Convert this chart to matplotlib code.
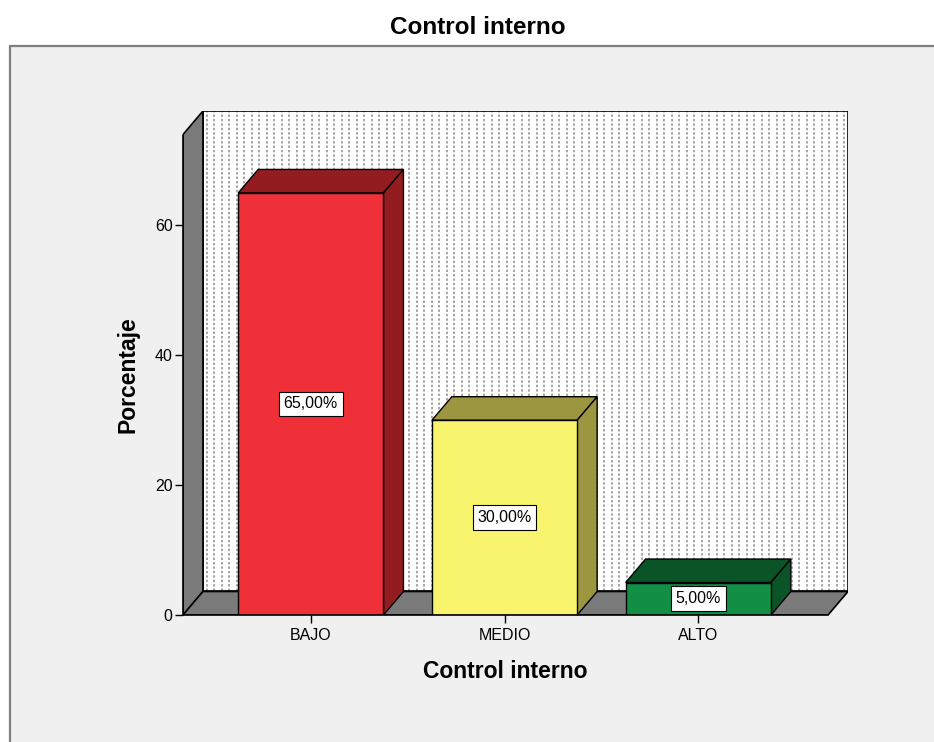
import numpy as np
import matplotlib
matplotlib.use("Agg")
from matplotlib import pyplot as plt
from matplotlib.patches import Polygon, Rectangle

plt.rcParams['font.family'] = ['Liberation Sans', 'DejaVu Sans']

# data
categorias = ["BAJO", "MEDIO", "ALTO"]
porcentajes = [65.0, 30.0, 5.0]
etiquetas = ["65,00%", "30,00%", "5,00%"]
y_ticks = [0, 20, 40, 60]

# colours per bar: front face, top/side face
frente = ["#EF3038", "#F8F46E", "#128E45"]
sombra = ["#931C21", "#9B963F", "#0B5427"]

# geometry of the pseudo 3d box
x0, x1 = -0.66, 2.67    # front floor extent
ytop = 74.0             # top of left wall
dx, dy = 0.103, 3.62    # depth offset
ancho = 0.75

fig = plt.figure(figsize=(9.34, 7.42), dpi=100)
fig.patch.set_facecolor("white")

# grey panel behind the chart
fig.patches.append(Rectangle((10 / 934, -0.05), 1.0, (742 - 46) / 742 + 0.05,
                             transform=fig.transFigure, facecolor="#F0F0F0",
                             edgecolor="#7F7F7F", linewidth=1.6, zorder=-5))

ax = fig.add_axes([183 / 934, (742 - 615) / 742, (848 - 183) / 934, (615 - 111) / 742])
ax.set_facecolor("none")
ax.set_xlim(x0, x1 + dx)
ax.set_ylim(0, ytop + dy)

# back wall with dotted vertical pattern
ax.add_patch(Rectangle((x0 + dx, dy), x1 - x0, ytop, facecolor="white",
                       edgecolor="none", zorder=1))
xs = np.arange(x0 + dx + 0.02, x1 + dx, 0.0387)
ax.vlines(xs, dy, ytop + dy, colors="#8E8E8E", linewidth=1.1,
          linestyles=(0, (1.6, 1.3)), zorder=1.5)
ax.add_patch(Rectangle((x0 + dx, dy), x1 - x0, ytop, facecolor="none",
                       edgecolor="black", linewidth=1.2, zorder=2))

# left wall and floor
ax.add_patch(Polygon([(x0, 0), (x0, ytop), (x0 + dx, ytop + dy), (x0 + dx, dy)],
                     closed=True, facecolor="#7A7A7A", edgecolor="black",
                     linewidth=1.2, zorder=3))
ax.add_patch(Polygon([(x0, 0), (x1, 0), (x1 + dx, dy), (x0 + dx, dy)],
                     closed=True, facecolor="#7A7A7A", edgecolor="black",
                     linewidth=1.2, zorder=3))

pos = np.arange(len(categorias))
ax.bar(pos, porcentajes, width=ancho, color=frente, edgecolor="black",
       linewidth=1.0, zorder=5)
for x, v, c in zip(pos, porcentajes, sombra):
    l, r = x - ancho / 2, x + ancho / 2
    ax.add_patch(Polygon([(l, v), (r, v), (r + dx, v + dy), (l + dx, v + dy)],
                         closed=True, facecolor=c, edgecolor="black",
                         linewidth=1.0, zorder=4))
    ax.add_patch(Polygon([(r, 0), (r + dx, dy), (r + dx, v + dy), (r, v)],
                         closed=True, facecolor=c, edgecolor="black",
                         linewidth=1.0, zorder=4))

for x, v, t in zip(pos, porcentajes, etiquetas):
    ax.text(x, v / 2, t, ha="center", va="center", fontsize=11.5, zorder=6,
            bbox=dict(boxstyle="square,pad=0.3", facecolor="white",
                      edgecolor="black", linewidth=0.8))

# axes
for s in ["top", "right"]:
    ax.spines[s].set_visible(False)
ax.spines["left"].set_bounds(0, ytop)
ax.spines["bottom"].set_bounds(x0, x1)
for s in ["left", "bottom"]:
    ax.spines[s].set_linewidth(1.2)
    ax.spines[s].set_zorder(7)
ax.set_yticks(y_ticks)
ax.set_xticks(pos)
ax.set_xticklabels(categorias)
ax.tick_params(axis="both", length=5.5, width=1.0, labelsize=11.5, pad=2)
ax.tick_params(axis="x", pad=4)

fig.text(128 / 934, 1 - 375 / 742, "Porcentaje", ha="center", va="center",
         rotation=90, fontsize=16.5, fontweight="bold")
fig.text(505 / 934, 1 - 672 / 742, "Control interno", ha="center", va="center",
         fontsize=16.5, fontweight="bold")
fig.text(478 / 934, 1 - 27 / 742, "Control interno", ha="center", va="center",
         fontsize=17.5, fontweight="bold")

fig.savefig("out.png", dpi=100)
